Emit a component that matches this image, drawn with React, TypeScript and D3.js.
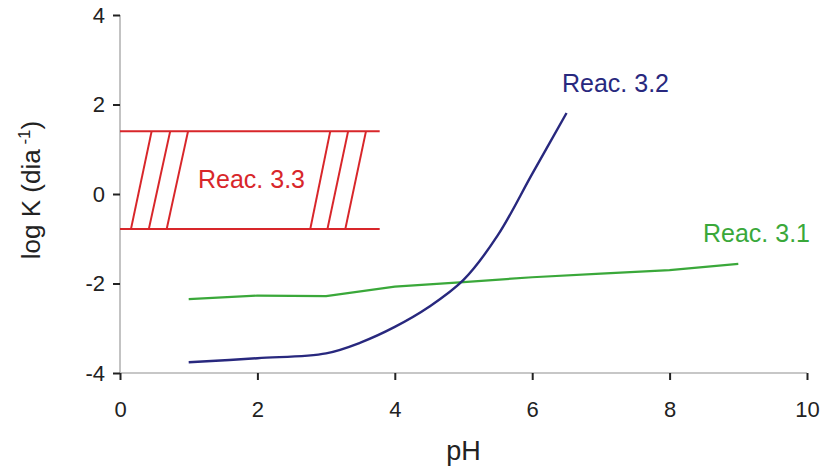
import React, { useEffect, useRef } from "react";
import * as d3 from "d3";

// Reac. 3.1 — log K vs pH
const phGreen = [1, 2, 3, 4, 5, 6, 7, 8, 9];
const logKGreen = [-2.35, -2.27, -2.28, -2.07, -1.97, -1.86, -1.78, -1.7, -1.56];

// Reac. 3.2 — log K vs pH
const phBlue = [1, 2, 3, 3.5, 4, 4.5, 5, 5.5, 6, 6.5];
const logKBlue = [-3.76, -3.67, -3.56, -3.32, -2.97, -2.52, -1.92, -0.92, 0.45, 1.81];

// Reac. 3.3 — band of log K values, hatched
const bandTop = 1.4;
const bandBottom = -0.78;
const bandStartPH = 0;
const bandEndPH = 3.78;
const hatchTopPH = [0.46, 0.73, 0.99, 3.06, 3.32, 3.58];
const hatchBottomPH = [0.16, 0.42, 0.68, 2.77, 3.02, 3.28];

const xTicks = [0, 2, 4, 6, 8, 10];
const yTicks = [-4, -2, 0, 2, 4];

const W = 825;
const H = 473;
const FONT = "'Liberation Sans', Arial, sans-serif";

export default function App() {
  const axRef = useRef<SVGGElement>(null);

  const x = d3.scaleLinear().domain([0, 10]).range([120, 807]);
  const y = d3.scaleLinear().domain([-4, 4]).range([373, 15]);

  useEffect(() => {
    const g = d3.select(axRef.current);
    g.selectAll("*").remove();

    const fmt = (d: d3.NumberValue) => String(d);
    const yAxis = g
      .append("g")
      .attr("transform", `translate(${x(0)},0)`)
      .call(d3.axisLeft(y).tickValues(yTicks).tickSize(7).tickPadding(8).tickFormat(fmt));
    const xAxis = g
      .append("g")
      .attr("transform", `translate(0,${y(-4)})`)
      .call(d3.axisBottom(x).tickValues(xTicks).tickSize(7).tickPadding(9).tickFormat(fmt));

    [yAxis, xAxis].forEach((a) => {
      a.select(".domain").attr("stroke", "#b4b4b4").attr("stroke-width", 1.6);
      a.selectAll(".tick line").attr("stroke", "#222").attr("stroke-width", 2);
      a.selectAll(".tick text")
        .attr("fill", "#222")
        .style("font-family", FONT)
        .style("font-size", "22px");
    });
    yAxis.select(".domain").attr("d", `M0,${y(4)}V${y(-4)}`);
    xAxis.select(".domain").attr("d", `M${x(0)},0H${x(10)}`);
    xAxis.selectAll(".tick text").attr("dy", 0).attr("y", 44);
  }, []);

  const line = d3
    .line<[number, number]>()
    .x((d) => x(d[0]))
    .y((d) => y(d[1]));
  const smooth = d3
    .line<[number, number]>()
    .x((d) => x(d[0]))
    .y((d) => y(d[1]))
    .curve(d3.curveCatmullRom.alpha(0.5));

  const green = phGreen.map((p, i) => [p, logKGreen[i]] as [number, number]);
  const blue = phBlue.map((p, i) => [p, logKBlue[i]] as [number, number]);

  const red = "#d8262a";
  const navy = "#28287e";
  const grn = "#3aa83a";

  return (
    <svg
      width={W}
      height={H}
      style={{ position: "absolute", left: 0, top: 0, background: "#fff" }}
    >
      <g ref={axRef} />

      {/* Reac. 3.3 band */}
      <g stroke={red} strokeWidth={2} fill="none">
        <line x1={x(bandStartPH)} x2={x(bandEndPH)} y1={y(bandTop)} y2={y(bandTop)} />
        <line x1={x(bandStartPH)} x2={x(bandEndPH)} y1={y(bandBottom)} y2={y(bandBottom)} />
        {hatchTopPH.map((p, i) => (
          <line key={i} x1={x(p)} y1={y(bandTop)} x2={x(hatchBottomPH[i])} y2={y(bandBottom)} />
        ))}
      </g>

      <path d={line(green) ?? ""} fill="none" stroke={grn} strokeWidth={2.2} />
      <path d={smooth(blue) ?? ""} fill="none" stroke={navy} strokeWidth={2.4} />

      <g style={{ fontFamily: FONT, fontSize: 25 }}>
        <text x={198} y={188} fill={red}>Reac. 3.3</text>
        <text x={562} y={92} fill={navy}>Reac. 3.2</text>
        <text x={703} y={242} fill={grn}>Reac. 3.1</text>
      </g>

      <text
        x={x(5)}
        y={460}
        textAnchor="middle"
        fill="#222"
        style={{ fontFamily: FONT, fontSize: 27 }}
      >
        pH
      </text>
      <text
        transform={`translate(40,190) rotate(-90)`}
        textAnchor="middle"
        fill="#222"
        style={{ fontFamily: FONT, fontSize: 26 }}
      >
        log K (dia
        <tspan dy={-10} style={{ fontSize: 17 }}> -1</tspan>
        <tspan dy={10}>)</tspan>
      </text>
    </svg>
  );
}
